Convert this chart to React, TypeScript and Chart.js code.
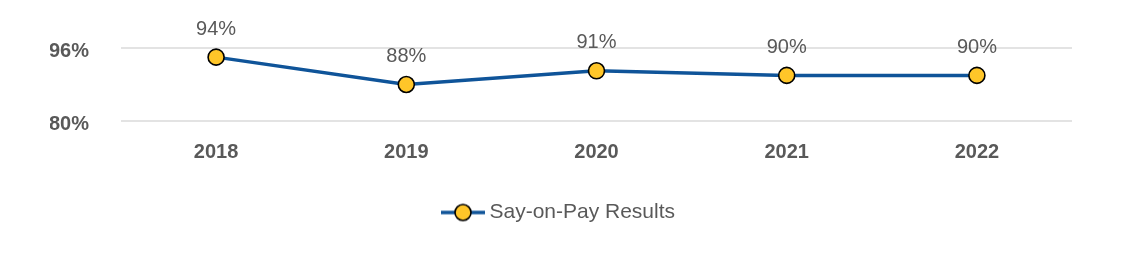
import React, { useEffect, useRef } from "react";
import { Chart, registerables } from "chart.js";

Chart.register(...registerables);

const categories = ["2018", "2019", "2020", "2021", "2022"];
const sayOnPay = [94, 88, 91, 90, 90];
const yTicks = [80, 96];
const seriesName = "Say-on-Pay Results";

const FONT = "'Liberation Sans', Arial, sans-serif";
const TEXT = "#595959";
const LINE = "#0F5499";
const POINT = "#FFC629";

function makeLegendMarker(): HTMLCanvasElement {
  const c = document.createElement("canvas");
  c.width = 46;
  c.height = 22;
  const ctx = c.getContext("2d")!;
  ctx.strokeStyle = LINE;
  ctx.lineWidth = 3.5;
  ctx.beginPath();
  ctx.moveTo(1, 11);
  ctx.lineTo(45, 11);
  ctx.stroke();
  ctx.beginPath();
  ctx.arc(23, 11, 8, 0, Math.PI * 2);
  ctx.fillStyle = POINT;
  ctx.fill();
  ctx.lineWidth = 1.6;
  ctx.strokeStyle = "#000";
  ctx.stroke();
  return c;
}

const dataLabels = {
  id: "dataLabels",
  afterDatasetsDraw(chart: any) {
    const ctx = chart.ctx;
    const meta = chart.getDatasetMeta(0);
    ctx.save();
    ctx.font = `20px ${FONT}`;
    ctx.fillStyle = TEXT;
    ctx.textAlign = "center";
    ctx.textBaseline = "middle";
    meta.data.forEach((pt: any, i: number) => {
      ctx.fillText(`${chart.data.datasets[0].data[i]}%`, pt.x, pt.y - 28);
    });
    ctx.restore();
  },
};

export default function App() {
  const ref = useRef<HTMLCanvasElement>(null);
  useEffect(() => {
    const marker = makeLegendMarker();
    const chart = new Chart(ref.current!, {
      type: "line",
      data: {
        labels: categories,
        datasets: [
          {
            label: seriesName,
            data: sayOnPay,
            borderColor: LINE,
            borderWidth: 3.5,
            pointBackgroundColor: POINT,
            pointBorderColor: "#000",
            pointBorderWidth: 1.6,
            pointRadius: 8,
            tension: 0,
          },
        ],
      },
      options: {
        animation: false,
        responsive: false,
        layout: { padding: { top: 48, right: 50, bottom: 47, left: 50 } },
        scales: {
          x: {
            offset: true,
            grid: { display: false, drawTicks: false },
            border: { display: false },
            ticks: {
              color: TEXT,
              font: { family: FONT, size: 20, weight: "bold" },
              padding: 19,
            },
            afterFit(scale: any) {
              scale.height = 71;
            },
          },
          y: {
            min: 80,
            max: 96,
            afterBuildTicks(scale: any) {
              scale.ticks = yTicks.map((v) => ({ value: v }));
            },
            grid: { color: "#E3E3E3", lineWidth: 2, drawTicks: false },
            border: { display: false },
            ticks: {
              color: TEXT,
              font: { family: FONT, size: 20, weight: "bold" },
              padding: 32,
              labelOffset: 3,
              callback: (v: any) => `${v}%`,
            },
            afterFit(scale: any) {
              scale.width = 71;
            },
          },
        },
        plugins: {
          tooltip: { enabled: false },
          legend: {
            position: "bottom",
            labels: {
              color: TEXT,
              font: { family: FONT, size: 21 },
              padding: 10,
              usePointStyle: true,
              pointStyleWidth: 32,
              generateLabels: () => [
                {
                  text: seriesName,
                  pointStyle: marker as any,
                  fillStyle: POINT,
                  strokeStyle: LINE,
                  lineWidth: 0,
                  hidden: false,
                  datasetIndex: 0,
                  fontColor: TEXT,
                },
              ],
            },
          },
        },
      },
      plugins: [dataLabels],
    });
    return () => chart.destroy();
  }, []);
  return (
    <div style={{ position: "absolute", left: 0, top: 0, width: 1122, height: 280 }}>
      <canvas ref={ref} width={1122} height={280} style={{ width: 1122, height: 280 }} />
    </div>
  );
}
